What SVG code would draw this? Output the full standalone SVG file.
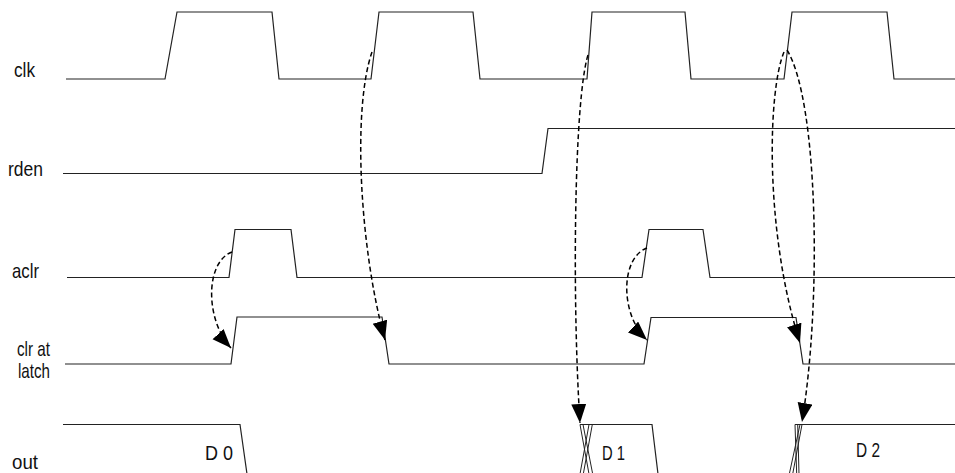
<svg xmlns="http://www.w3.org/2000/svg" width="955" height="473" viewBox="0 0 955 473">
<style>
.w{fill:none;stroke:#222;stroke-width:1.2;stroke-linejoin:miter}
.x{fill:none;stroke:#222;stroke-width:1}
.a{fill:none;stroke:#000;stroke-width:1.5;stroke-dasharray:5,3}
.t{font-family:"Liberation Sans",Arial,sans-serif;font-size:21px;fill:#111}
</style>
<defs>
<marker id="ah" markerUnits="userSpaceOnUse" markerWidth="22" markerHeight="16" refX="19" refY="7.5" orient="auto">
<path d="M0,0 L19,7.5 L0,15 z" fill="#000"/>
</marker>
</defs>
<rect width="955" height="473" fill="#fff"/>
<g id="clk">
<text class="t" x="14" y="77" textLength="21" lengthAdjust="spacingAndGlyphs">clk</text>
<polyline class="w" points="66,79 165,79 177,12 272,12 279,79 371,79 379,12 473,12 480,79 587,79 592,12 685,12 691,79 784,79 792,12 887,12 894,79 955,79"/>
</g>
<g id="rden">
<text class="t" x="8" y="176" textLength="35" lengthAdjust="spacingAndGlyphs">rden</text>
<polyline class="w" points="63,173.5 542,173.5 548,128.5 955,128.5"/>
</g>
<g id="aclr">
<text class="t" x="12" y="278" textLength="27" lengthAdjust="spacingAndGlyphs">aclr</text>
<polyline class="w" points="67,277.5 229,277.5 235,229.5 291,229.5 297,277.5 642,277.5 649,229.5 703,229.5 710,277.5 955,277.5"/>
</g>
<g id="clr_at_latch">
<text class="t" x="17" y="356" textLength="33" lengthAdjust="spacingAndGlyphs">clr at</text>
<text class="t" x="18" y="378" textLength="32" lengthAdjust="spacingAndGlyphs">latch</text>
<polyline class="w" points="65,364 231,364 237,317 382,317 389,364 644,364 651,317.5 796,317.5 803,364 955,364"/>
</g>
<g id="out">
<text class="t" x="12" y="469" textLength="26" lengthAdjust="spacingAndGlyphs">out</text>
<polyline class="w" points="63,424.5 240,424.5 247,474"/>
<text class="t" x="205" y="460" textLength="28" lengthAdjust="spacingAndGlyphs">D 0</text>
<polyline class="w" points="580,424.5 652,424.5 658,474"/>
<path class="x" d="M580,424.5 L589,474 M583,424.5 L592.7,474 M589,424.5 L580,474 M592.3,424.5 L583.3,474"/>
<text class="t" x="602" y="460" textLength="23" lengthAdjust="spacingAndGlyphs">D 1</text>
<polyline class="w" points="795,424.5 955,424.5"/>
<path class="x" d="M795,424.5 L796.7,474 M797.7,424.5 L799,474 M800,424.5 L789.3,474 M802,424.5 L792.7,474"/>
<text class="t" x="856" y="457" textLength="24" lengthAdjust="spacingAndGlyphs">D 2</text>
</g>
<g id="connectors">
<path class="a" d="M372,52 C352,110 360,250 385,340" marker-end="url(#ah)"/>
<path class="a" d="M232,252 C205,262 205,320 231,348" marker-end="url(#ah)"/>
<path class="a" d="M647,248 C620,258 620,315 647,340" marker-end="url(#ah)"/>
<path class="a" d="M588,55 C574,100 572,300 580,423" marker-end="url(#ah)"/>
<path class="a" d="M784,52 C768,90 764,230 800,343" marker-end="url(#ah)"/>
<path class="a" d="M787,50 C818,100 822,300 802,422" marker-end="url(#ah)"/>
</g>
</svg>
